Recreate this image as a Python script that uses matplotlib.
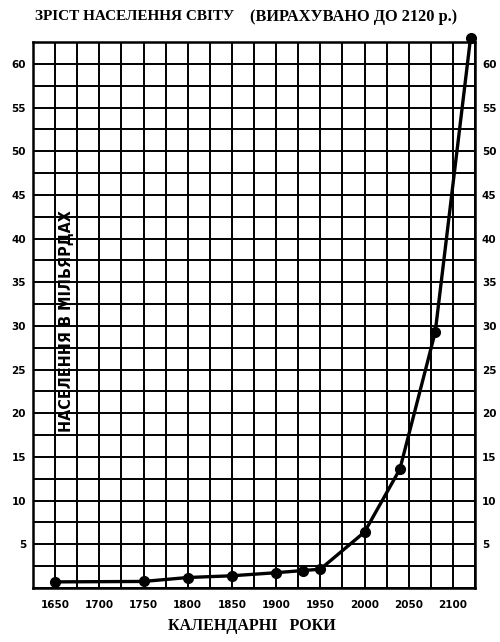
import matplotlib
matplotlib.use("Agg")
import matplotlib.pyplot as plt
from matplotlib.ticker import MultipleLocator

# ── дані: зріст населення світу (млрд) ──
years = [1650, 1750, 1800, 1850, 1900, 1930, 1950, 2000, 2040, 2080, 2120]
population = [0.7, 0.75, 1.2, 1.4, 1.75, 2.0, 2.15, 6.4, 13.6, 29.3, 63.0]

x_ticks = [1650, 1700, 1750, 1800, 1850, 1900, 1950, 2000, 2050, 2100]
y_ticks = [5, 10, 15, 20, 25, 30, 35, 40, 45, 50, 55, 60]

title_main = "ЗРІСТ НАСЕЛЕННЯ СВІТУ"
title_note = "(ВИРАХУВАНО ДО 2120 р.)"
x_label = "КАЛЕНДАРНІ   РОКИ"
y_label = "НАСЕЛЕННЯ В МІЛЬЯРДАХ"

W, H = 500, 642
fig = plt.figure(figsize=(W / 100, H / 100), dpi=100)
ax = fig.add_axes([33 / W, 1 - 588 / H, (475 - 33) / W, (588 - 42) / H])

ax.set_xlim(1625, 2125)
ax.set_ylim(0, 62.5)

ax.xaxis.set_minor_locator(MultipleLocator(25))
ax.yaxis.set_minor_locator(MultipleLocator(2.5))
ax.set_xticks(x_ticks)
ax.set_yticks(y_ticks)
ax.grid(True, which="both", color="black", linewidth=1.4)
ax.set_axisbelow(True)

ax.tick_params(which="both", length=0)
ax.tick_params(axis="x", pad=9, labelsize=7.5)
ax.tick_params(axis="y", pad=5, labelsize=7.5, labelright=True)
for lab in ax.get_xticklabels() + ax.get_yticklabels():
    lab.set_fontweight("bold")
for s in ax.spines.values():
    s.set_linewidth(1.8)

ax.plot(years, population, "-", color="black", linewidth=2.4,
        marker="o", markersize=7, clip_on=False, zorder=5)

# підпис осі Y всередині сітки
ax.text(1663, 30.5, y_label, rotation=90, ha="center", va="center",
        fontsize=11.5, fontweight="bold", fontstretch="condensed",
        family="DejaVu Sans")

fig.text(35 / W, 1 - 17 / H, title_main, ha="left", va="center",
         fontsize=11, fontweight="bold", family="Liberation Serif")
fig.text(250 / W, 1 - 17 / H, title_note, ha="left", va="center",
         fontsize=11.8, fontweight="bold", family="Liberation Serif")
fig.text(252 / W, 1 - 626 / H, x_label, ha="center", va="center",
         fontsize=11.5, fontweight="bold", family="Liberation Serif")

fig.savefig("out.png", dpi=100)
